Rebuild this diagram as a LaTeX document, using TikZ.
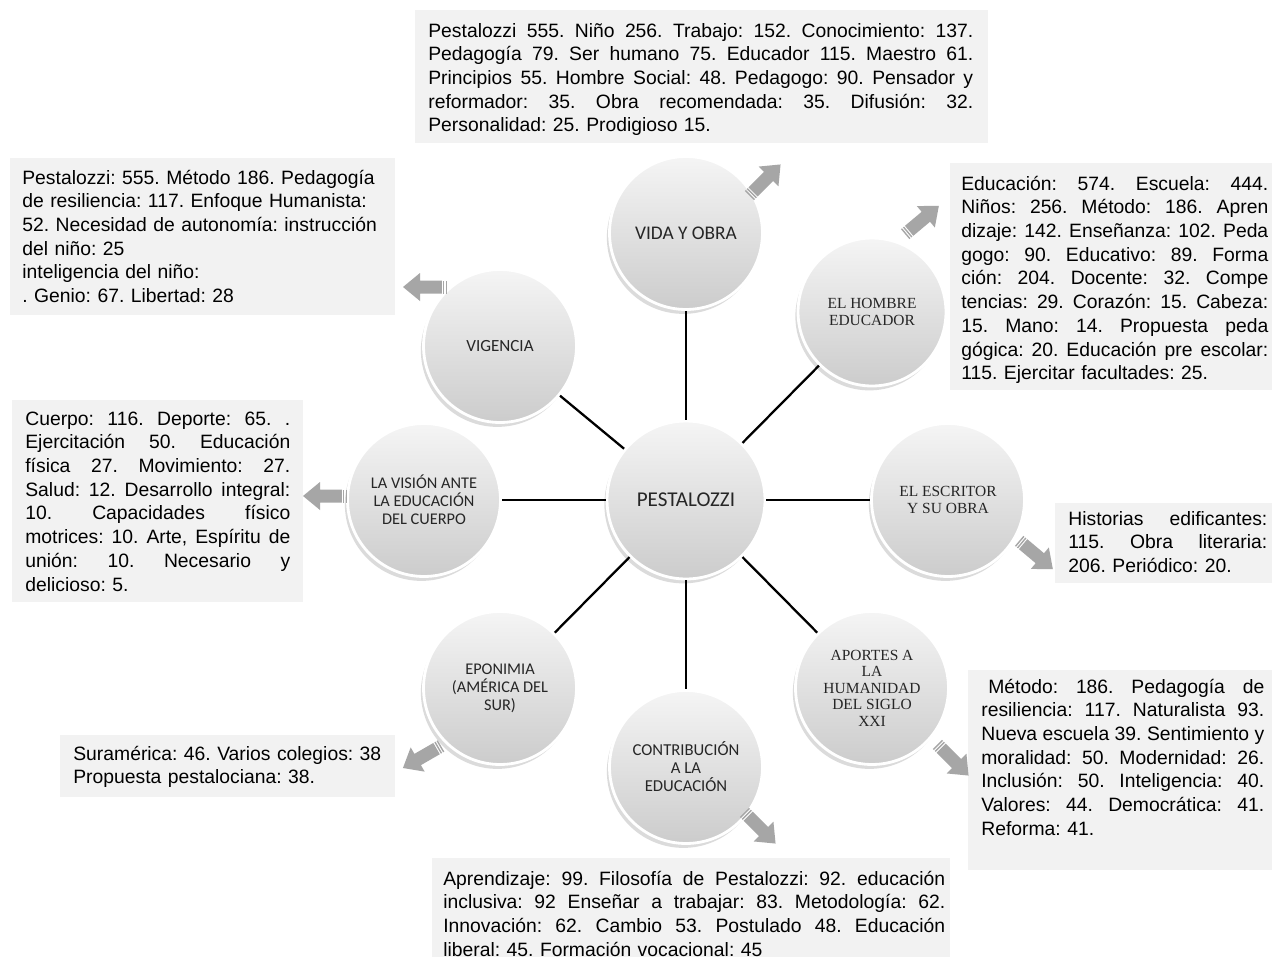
\documentclass[tikz,border=0pt]{standalone}
\usepackage{fontspec}
\setmainfont{Liberation Sans}
\newfontfamily\calfont{Carlito}
\newfontfamily\timesfont{Liberation Serif}
\usetikzlibrary{shadows}
\definecolor{boxgray}{HTML}{F2F2F2}
\definecolor{arrowgray}{HTML}{A6A6A6}
\definecolor{labelink}{HTML}{262626}
\frenchspacing
\newlength\bw
\newcommand\jl[1]{\leavevmode\hbox to \bw{\spaceskip=0.25em plus 1fil\relax\xspaceskip=0.25em plus 1fil\relax #1}}
\newcommand\garrow[3]{%
  \begin{scope}[shift={(#1,#2)},rotate=#3]
    \fill[arrowgray] (-22,-6.5) rectangle (-20.6,6.5);
    \fill[arrowgray] (-19.4,-6.5) rectangle (-18,6.5);
    \fill[arrowgray] (-16.8,-6.5) -- (5,-6.5) -- (5,-14) -- (22,0) -- (5,14) -- (5,6.5) -- (-16.8,6.5) -- cycle;
  \end{scope}}
\tikzset{
  ball/.style={circle, minimum size=3.06cm, inner sep=0pt, draw=white, line width=1.6pt,
    top color=white!96!black, bottom color=black!20,
    drop shadow={shadow xshift=-1.5pt, shadow yshift=-2.5pt, opacity=0.14, fill=black},
    align=center, text=labelink},
  sanslab/.style={ball, font=\calfont\fontsize{9.3}{10.2}\selectfont},
  seriflab/.style={ball, font=\timesfont\fontsize{8.8}{9.4}\selectfont},
  spoke/.style={line width=1.3pt, black},
  txt/.style={anchor=base west, inner sep=0pt, align=left, font=\frenchspacing\fontsize{11}{13.5}\selectfont},
}
\begin{document}
\begin{tikzpicture}[x=0.02cm, y=-0.02cm]
\useasboundingbox (0,0) rectangle (1272,957);
\clip (0,0) rectangle (1272,957);
\fill[white] (0,0) rectangle (1272,957);

% text boxes
\fill[boxgray] (415,10) rectangle (988,143);
\setlength\bw{10.9cm}
\node[txt, text width=10.9cm] (tvida) at (428,37) {%
\jl{Pestalozzi  555. Niño 256. Trabajo: 152. Conocimiento: 137.}\\
\jl{Pedagogía 79. Ser humano 75. Educador  115. Maestro 61.}\\
\jl{Principios 55. Hombre Social: 48. Pedagogo: 90. Pensador y}\\
\jl{reformador:  35.  Obra  recomendada:  35.  Difusión:  32.}\\
Personalidad:  25. Prodigioso 15.};

\fill[boxgray] (10,158) rectangle (395,315);
\node[txt, text width=7.4cm] (tvig) at (22,184) {%
Pestalozzi: 555. Método 186. Pedagogía\\
de resiliencia: 117. Enfoque Humanista:\\
52. Necesidad de autonomía: instrucción\\
del niño: 25\\
inteligencia del niño:\\
. Genio: 67. Libertad: 28};

\fill[boxgray] (950,163) rectangle (1272,390);
\setlength\bw{6.14cm}
\node[txt, text width=6.14cm] (thom) at (961,190) {%
\jl{Educación: 574. Escuela: 444.}\\
\jl{Niños: 256. Método: 186. Apren}\\
\jl{dizaje: 142. Enseñanza: 102. Peda}\\
\jl{gogo: 90. Educativo: 89. Forma}\\
\jl{ción: 204. Docente: 32. Compe}\\
\jl{tencias: 29.  Corazón: 15. Cabeza:}\\
\jl{15. Mano: 14. Propuesta peda}\\
\jl{gógica: 20. Educación  pre escolar:}\\
115. Ejercitar facultades: 25.};

\fill[boxgray] (12,400) rectangle (303,602);
\setlength\bw{5.3cm}
\node[txt, text width=5.3cm] (tvis) at (25,425) {%
\jl{Cuerpo: 116. Deporte: 65. .}\\
\jl{Ejercitación 50. Educación}\\
\jl{física 27. Movimiento: 27.}\\
\jl{Salud: 12.  Desarrollo integral:}\\
\jl{10. Capacidades físico}\\
\jl{motrices: 10. Arte, Espíritu de}\\
\jl{unión: 10. Necesario y}\\
delicioso: 5.};

\fill[boxgray] (1055,503) rectangle (1272,583);
\setlength\bw{3.98cm}
\node[txt, text width=3.98cm] (tesc) at (1068,525) {%
\jl{Historias edificantes:}\\
\jl{115. Obra literaria:}\\
206. Periódico: 20.};

\fill[boxgray] (968,670) rectangle (1272,870);
\setlength\bw{5.66cm}
\node[txt, text width=5.66cm] (tapo) at (981,693) {%
\jl{\hspace*{0.14cm}Método: 186. Pedagogía de}\\
\jl{resiliencia: 117. Naturalista 93.}\\
\jl{Nueva escuela 39. Sentimiento y}\\
\jl{moralidad: 50.  Modernidad: 26.}\\
\jl{Inclusión: 50. Inteligencia: 40.}\\
\jl{Valores: 44. Democrática: 41.}\\
Reforma: 41.};

\fill[boxgray] (432,858) rectangle (950,957);
\setlength\bw{10.04cm}
\node[txt, text width=10.04cm] (tcon) at (443,885) {%
\jl{Aprendizaje: 99. Filosofía de Pestalozzi: 92. educación}\\
\jl{inclusiva: 92 Enseñar a trabajar: 83. Metodología: 62.}\\
\jl{Innovación: 62. Cambio 53. Postulado 48. Educación}\\
liberal: 45. Formación vocacional: 45};

\fill[boxgray] (60,735) rectangle (395,797);
\node[txt, text width=6.5cm] (tepo) at (73,760) {%
Suramérica: 46. Varios colegios: 38\\
Propuesta pestalociana: 38.};

% circles
\node[sanslab, minimum size=3.16cm, font=\calfont\fontsize{12}{13}\selectfont] (c) at (686,500) {PESTALOZZI};
\node[sanslab, font=\calfont\fontsize{11}{12}\selectfont] (vida) at (686,233) {VIDA Y OBRA};
\node[seriflab, minimum size=2.96cm] (hom) at (872,312) {EL HOMBRE\\EDUCADOR};
\node[seriflab] (esc) at (948,500) {EL ESCRITOR\\Y SU OBRA};
\node[seriflab] (apo) at (872,688) {APORTES A\\LA\\HUMANIDAD\\DEL SIGLO\\XXI};
\node[sanslab, font=\calfont\fontsize{9.5}{10.2}\selectfont] (con) at (686,767) {CONTRIBUCIÓN\\A LA\\EDUCACIÓN};
\node[sanslab] (epo) at (500,688) {EPONIMIA\\(AMÉRICA DEL\\SUR)};
\node[sanslab] (vis) at (424,500) {LA VISIÓN ANTE\\LA EDUCACIÓN\\DEL CUERPO};
\node[sanslab, font=\calfont\fontsize{9.7}{10.5}\selectfont] (vig) at (500,346) {VIGENCIA};

% spokes
\foreach \n in {vida,hom,esc,apo,con,epo,vis,vig}
  \draw[spoke] (c) -- (\n);

% block arrows
\garrow{765}{180}{45}
\garrow{922}{220}{40}
\garrow{1036}{555}{-40}
\garrow{953}{760}{-45}
\garrow{760}{828}{-45}
\garrow{422}{757}{210}
\garrow{325}{496}{180}
\garrow{425}{287}{180}
\end{tikzpicture}
\end{document}
